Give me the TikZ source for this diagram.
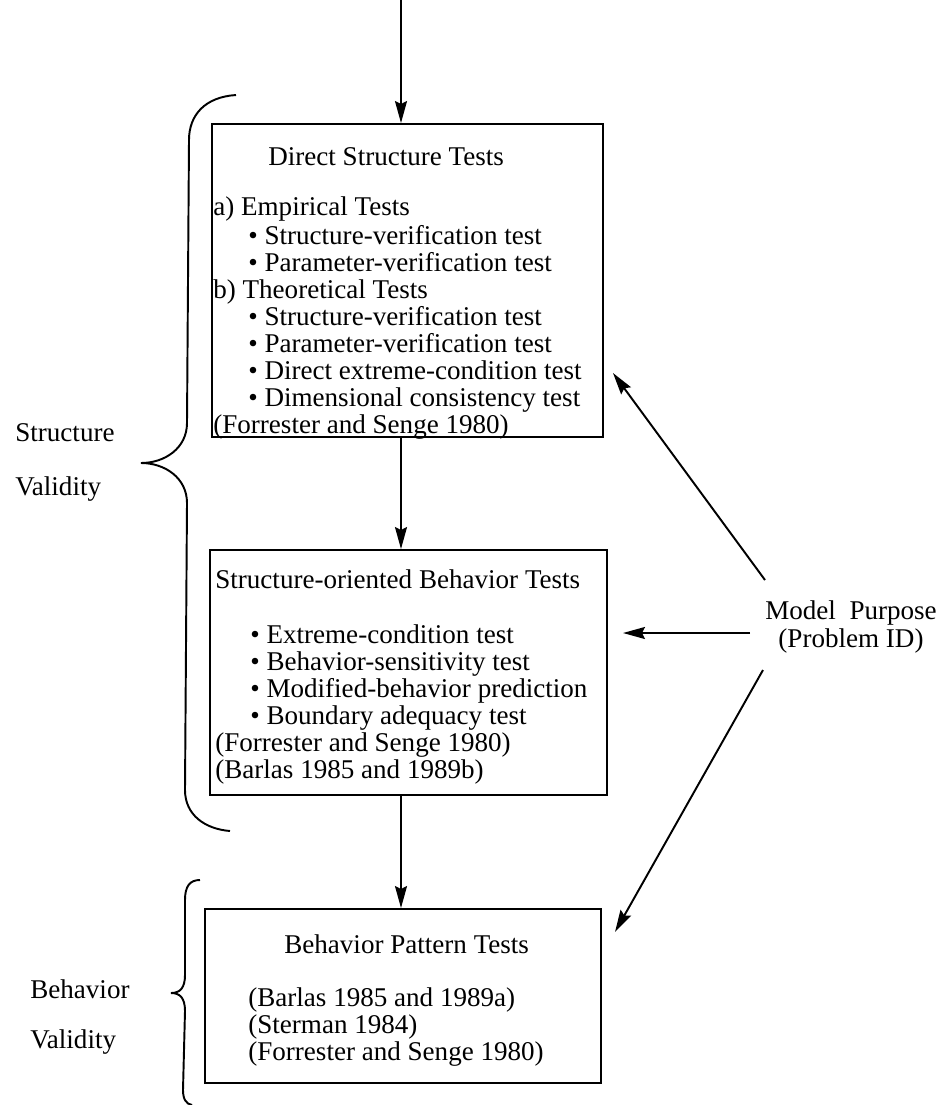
\documentclass[tikz,border=0pt]{standalone}
\usepackage{fontspec}
\setmainfont{Liberation Serif}
\usepackage{tikz}
\usetikzlibrary{arrows.meta}
\usetikzlibrary{positioning}

\newcommand{\itm}{\hspace*{7mm}\textbullet\ }

\begin{document}
\begin{tikzpicture}[font=\fontsize{15.4}{15.4}\selectfont,
		box/.style={draw, line width=1.1pt, inner sep=0pt},
		hd/.style={inner sep=0pt, anchor=base west},
		txt/.style={inner sep=0pt, align=left, anchor=north west},
		brc/.style={line width=1.1pt},
		arr/.style={line width=1.1pt, -{Stealth[length=4.4mm,width=2.4mm,inset=0.6mm]}}]
	\useasboundingbox (0,0) rectangle (18.92,-22.10);

	\node[box, minimum width=7.82cm, minimum height=6.26cm] (A) at (8.15,-5.61) {};
	\node[hd] (A0) at (5.36,-3.30) {Direct Structure Tests};
	\node[txt] (A1) at (4.26,-3.92) {\strut a) Empirical Tests\\
		\itm Structure-verification test\\
		\itm Parameter-verification test\\
		b) Theoretical Tests\\
		\itm Structure-verification test\\
		\itm Parameter-verification test\\
		\itm Direct extreme-condition test\\
		\itm Dimensional consistency test\\
		(Forrester and Senge 1980)};

	\node[box, minimum width=7.94cm, minimum height=4.90cm] (B) at (8.17,-13.45) {};
	\node[hd] (B0) at (4.30,-11.76) {Structure-oriented Behavior Tests};
	\node[txt] (B1) at (4.30,-12.48) {\strut\itm Extreme-condition test\\
		\itm Behavior-sensitivity test\\
		\itm Modified-behavior prediction\\
		\itm Boundary adequacy test\\
		(Forrester and Senge 1980)\\
		(Barlas 1985 and 1989b)};

	\node[box, minimum width=7.92cm, minimum height=3.48cm] (C) at (8.06,-19.92) {};
	\node[hd] (C0) at (5.68,-19.06) {Behavior Pattern Tests};
	\node[txt] (C1) at (4.96,-19.74) {\strut(Barlas 1985 and 1989a)\\
		(Sterman 1984)\\
		(Forrester and Senge 1980)};

	\node[hd] (S1) at (0.30,-8.82) {Structure};
	\node[hd] (S2) at (0.30,-9.90) {Validity};
	\node[hd] (V1) at (0.60,-19.96) {Behavior};
	\node[hd] (V2) at (0.60,-20.96) {Validity};

	\node[align=center, inner sep=0pt] (M) at (17.02,-12.54) {Model\ \ Purpose\\(Problem ID)};

	% main chain
	\coordinate (in) at (8.02,0);
	\draw[arr] (in) -- (in |- A.north);
	\draw[arr] (A.south -| in) -- (B.north -| in);
	\draw[arr] (B.south -| in) -- (C.north -| in);

	% model purpose
	\coordinate (p1) at (15.30,-11.60);
	\coordinate (q1) at (12.26,-7.46);
	\coordinate (p2) at (15.00,-12.66);
	\coordinate (q2) at (12.46,-12.66);
	\coordinate (p3) at (15.26,-13.40);
	\coordinate (q3) at (12.30,-18.64);
	\draw[arr] (p1) -- (q1);
	\draw[arr] (p2) -- (q2);
	\draw[arr] (p3) -- (q3);

	% braces
	\draw[brc] (4.72,-1.90) .. controls (4.10,-1.94) and (3.78,-2.30) .. (3.78,-2.80)
		-- (3.74,-8.46) .. controls (3.74,-8.96) and (3.30,-9.26) .. (2.82,-9.26)
		.. controls (3.30,-9.26) and (3.74,-9.56) .. (3.74,-10.06)
		-- (3.70,-15.80) .. controls (3.70,-16.30) and (4.10,-16.58) .. (4.60,-16.62);
	\draw[brc] (4.00,-17.60) .. controls (3.80,-17.60) and (3.70,-17.72) .. (3.70,-18.00)
		-- (3.70,-19.50) .. controls (3.70,-19.76) and (3.60,-19.86) .. (3.42,-19.86)
		.. controls (3.60,-19.86) and (3.70,-19.96) .. (3.70,-20.22)
		-- (3.66,-21.80) .. controls (3.66,-21.98) and (3.72,-22.08) .. (3.84,-22.10);
\end{tikzpicture}
\end{document}
